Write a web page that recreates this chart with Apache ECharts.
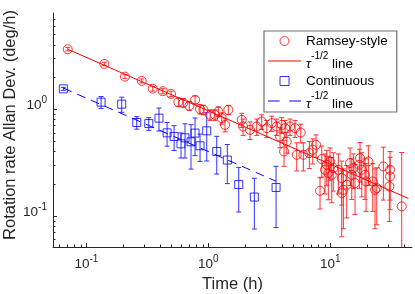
<!DOCTYPE html>
<html><head><meta charset="utf-8">
<script src="https://cdn.jsdelivr.net/npm/echarts@6/dist/echarts.min.js"></script>
<style>html,body{margin:0;padding:0;background:#fff}#c{width:415px;height:294px}</style>
</head><body><div id="c"></div>
<script>
// ---- data ----
const ramseyTime = [0.0704,0.1405,0.2075,0.2844,0.350,0.4229,0.4946,0.5676,0.6238,0.6988,0.778,0.855,0.910,1.033,1.135,1.208,1.288,1.458,1.370,1.878,1.925,2.197,2.493,2.740,3.011,3.309,3.637,3.870,3.996,4.253,4.675,5.137,5.720,4.392,4.174,5.304,6.007,6.729,7.174,7.636,8.505,9.343,9.943,9.048,9.630,10.58,11.63,10.27,8.234,12.40,12.79,12.40,13.63,14.51,15.44,14.98,15.94,17.52,17.29,18.09,19.25,20.49,19.62,22.26,23.25,24.01,27.19,30.85,30.85,30.45,38.47];
const ramseyDev = [3.637,2.651,2.017,1.839,1.557,1.473,1.39,1.163,1.145,1.074,1.222,1.0,0.985,0.885,0.885,0.950,0.824,0.985,0.713,0.794,0.688,0.640,0.688,0.766,0.664,0.740,0.688,0.555,0.713,0.664,0.688,0.664,0.604,0.498,0.402,0.374,0.374,0.388,0.417,0.464,0.341,0.3015,0.324,0.271,0.252,0.281,0.271,0.243,0.1723,0.2265,0.176,0.164,0.196,0.313,0.281,0.243,0.2034,0.348,0.3015,0.271,0.243,0.324,0.2105,0.2105,0.176,0.1827,0.291,0.271,0.2345,0.189,0.123];
const ramseyErr = [0.13,0.1,0.085,0.08,0.08,0.08,0.08,
  0.1,0.1,0.1,0.1,0.1,0.1,0.1,0.1,0.1,0.1,0.1,0.1,
  0.12,0.12,0.12,0.12,0.12,0.12,0.12,0.12,0.12,0.12,0.12,0.12,0.12,0.12,
  0.11,0.11,0.11,0.11,0.11,0.11,0.11,0.11,0.11,0.11,0.11,0.11,0.11,0.11,0.11,
  0.056,0.1,0.1,0.1,0.1,0.12,0.1,0.1,0.1,0.14,0.12,0.12,0.1,0.13,0.1,0.1,0.1,0.1,0.15,0.13,0.12,0.1,0.27];
const contTime = [0.0648,0.132,0.195,0.259,0.325,0.394,0.459,0.524,0.597,0.644,0.721,0.778,0.855,0.970,1.172,1.431,1.775,2.383,3.589];
const contDev = [1.55,1.163,1.114,0.750,0.733,0.824,0.600,0.555,0.474,0.539,0.495,0.597,0.454,0.627,0.402,0.334,0.197,0.1505,0.185];
const contErr = [0.05,0.15,0.18,0.10,0.10,0.2,0.15,0.145,0.125,0.19,0.22,0.23,0.13,0.3,0.155,0.133,0.088,0.075,0.107];
const ramseyFitTime = [0.0704, 43.6];
const ramseyFitDev = [3.637, 0.146];
const contFitTime = [0.0648, 3.59];
const contFitDev = [1.575, 0.2116];
const xMajorTicks = [0.1, 1, 10];
const xMinorTicks = [0.06,0.07,0.08,0.09,0.2,0.3,0.4,0.5,0.6,0.7,0.8,0.9,2,3,4,5,6,7,8,9,20,30,40];
const yMajorTicks = [0.1, 1];
const yMinorTicks = [0.06,0.07,0.08,0.09,0.2,0.3,0.4,0.5,0.6,0.7,0.8,0.9,2,3,4,5,6,7];
const X_MIN = 0.0533, X_MAX = 46.7, Y_MIN = 0.0513, Y_MAX = 7.94;

// ---- chart ----
const FONT = 'Liberation Sans, Arial, sans-serif';
const AX = '#262626';
const chart = echarts.init(document.getElementById('c'), null, {renderer: 'canvas'});

function powLabel(v) {
  const e = Math.round(Math.log10(v));
  return '{b|10}{s|' + e + '}';
}
const tickRich = {
  b: {fontSize: 13.5, fontFamily: FONT, color: AX, lineHeight: 17, verticalAlign: 'bottom'},
  s: {fontSize: 10, fontFamily: FONT, color: AX, lineHeight: 10, verticalAlign: 'top'}
};

function errRender(color) {
  return function (params, api) {
    const x = api.value(0), y = api.value(1), e = api.value(2);
    const top = api.coord([x, y + e]);
    const lo = y - e;
    const clipped = !(lo > Y_MIN);
    const bot = api.coord([x, clipped ? Y_MIN : lo]);
    const hw = 2.5;
    const st = {stroke: color, lineWidth: 1};
    const ch = [
      {type: 'line', shape: {x1: top[0], y1: top[1], x2: bot[0], y2: bot[1]}, style: st},
      {type: 'line', shape: {x1: top[0] - hw, y1: top[1], x2: top[0] + hw, y2: top[1]}, style: st}
    ];
    if (!clipped) ch.push({type: 'line', shape: {x1: bot[0] - hw, y1: bot[1], x2: bot[0] + hw, y2: bot[1]}, style: st});
    return {type: 'group', children: ch};
  };
}

const option = {
  animation: false,
  backgroundColor: '#fff',
  grid: {left: 53, top: 13, width: 359, height: 234, containLabel: false, outerBoundsMode: 'none'},
  xAxis: [
    {type: 'log', min: X_MIN, max: X_MAX, position: 'bottom',
     name: 'Time (h)', nameLocation: 'middle', nameGap: 29,
     nameTextStyle: {fontSize: 16.5, fontFamily: FONT, color: AX},
     axisLine: {show: true, lineStyle: {color: AX, width: 1}},
     axisTick: {show: true, inside: true, length: 4, customValues: xMajorTicks, lineStyle: {color: AX}},
     axisLabel: {show: true, customValues: xMajorTicks, formatter: powLabel, margin: 7, rich: tickRich},
     splitLine: {show: false}, minorTick: {show: false}},
    {type: 'log', min: X_MIN, max: X_MAX, position: 'bottom', offset: 0,
     axisLine: {show: false},
     axisTick: {show: true, inside: true, length: 2.5, customValues: xMinorTicks, lineStyle: {color: AX}},
     axisLabel: {show: false}, splitLine: {show: false}}
  ],
  yAxis: [
    {type: 'log', min: Y_MIN, max: Y_MAX, position: 'left',
     name: 'Rotation rate Allan Dev. (deg/h)', nameLocation: 'middle', nameGap: 34, nameMoveOverlap: false,
     nameTextStyle: {fontSize: 16.5, fontFamily: FONT, color: AX, padding: [0, 0, 0, 10]},
     axisLine: {show: true, lineStyle: {color: AX, width: 1}},
     axisTick: {show: true, inside: true, length: 4, customValues: yMajorTicks, lineStyle: {color: AX}},
     axisLabel: {show: true, customValues: yMajorTicks, formatter: powLabel, margin: 6, padding: [0, 0, 10, 0], rich: tickRich},
     splitLine: {show: false}},
    {type: 'log', min: Y_MIN, max: Y_MAX, position: 'left', offset: 0,
     axisLine: {show: false},
     axisTick: {show: true, inside: true, length: 2.5, customValues: yMinorTicks, lineStyle: {color: AX}},
     axisLabel: {show: false}, splitLine: {show: false}}
  ],
  legend: {
    data: [
      {name: 'Ramsey-style', icon: 'circle', itemStyle: {color: 'rgba(0,0,0,0)', borderColor: '#ff0000', borderWidth: 1}},
      {name: 'fitR', icon: 'path://M0,0H33V1H0Z', itemStyle: {color: '#ff0000', borderWidth: 0}},
      {name: 'Continuous', icon: 'path://M0,0H8V8H0Z', itemStyle: {color: 'rgba(0,0,0,0)', borderColor: '#0000ff', borderWidth: 1}},
      {name: 'fitB', icon: 'path://M0,0H12V1H0ZM22,0H34V1H22Z', itemStyle: {color: '#0000ff', borderWidth: 0}}
    ],
    orient: 'vertical', left: 264, top: 31,
    itemWidth: 33, itemHeight: 9, itemGap: 0,
    padding: [0, 9, 1, 4],
    borderColor: '#6e6e6e', borderWidth: 1.2, backgroundColor: '#fff',
    formatter: function (name) {
      if (name === 'fitR' || name === 'fitB') return '{t|τ}{s|-1/2}{n| line}';
      return name;
    },
    textStyle: {
      fontSize: 13.5, fontFamily: FONT, color: '#000', lineHeight: 20,
      rich: {
        t: {fontSize: 13.5, fontFamily: FONT, fontStyle: 'italic', color: '#000', lineHeight: 20, verticalAlign: 'bottom'},
        s: {fontSize: 10, fontFamily: FONT, color: '#000', lineHeight: 12, verticalAlign: 'top'},
        n: {fontSize: 13.5, fontFamily: FONT, color: '#000', lineHeight: 20, verticalAlign: 'bottom'}
      }
    }
  },
  series: [
    {name: 'Ramsey err', type: 'custom', xAxisIndex: 0, yAxisIndex: 0,
     renderItem: errRender('#ff3030'), encode: {x: 0, y: 1}, z: 2,
     data: ramseyTime.map((t, i) => [t, ramseyDev[i], ramseyErr[i]])},
    {name: 'Continuous err', type: 'custom', xAxisIndex: 0, yAxisIndex: 0,
     renderItem: errRender('#3030ff'), encode: {x: 0, y: 1}, z: 2,
     data: contTime.map((t, i) => [t, contDev[i], contErr[i]])},
    {name: 'fitR', type: 'line', xAxisIndex: 0, yAxisIndex: 0, symbol: 'none', z: 3,
     color: '#ff0000', lineStyle: {color: '#ff0000', width: 1},
     data: ramseyFitTime.map((t, i) => [t, ramseyFitDev[i]])},
    {name: 'fitB', type: 'line', xAxisIndex: 0, yAxisIndex: 0, symbol: 'none', z: 3,
     color: '#0000ff', lineStyle: {color: '#0000ff', width: 1, type: [9, 6]},
     data: contFitTime.map((t, i) => [t, contFitDev[i]])},
    {name: 'Ramsey-style', type: 'scatter', xAxisIndex: 0, yAxisIndex: 0, symbol: 'circle', symbolSize: 9, z: 4,
     itemStyle: {color: 'rgba(255,0,0,0)', borderColor: '#ff0000', borderWidth: 1},
     data: ramseyTime.map((t, i) => [t, ramseyDev[i]])},
    {name: 'Continuous', type: 'scatter', xAxisIndex: 0, yAxisIndex: 0, symbol: 'rect', symbolSize: 8, z: 4,
     itemStyle: {color: 'rgba(0,0,255,0)', borderColor: '#0000ff', borderWidth: 1},
     data: contTime.map((t, i) => [t, contDev[i]])}
  ]
};
chart.setOption(option);
</script>
</body></html>
